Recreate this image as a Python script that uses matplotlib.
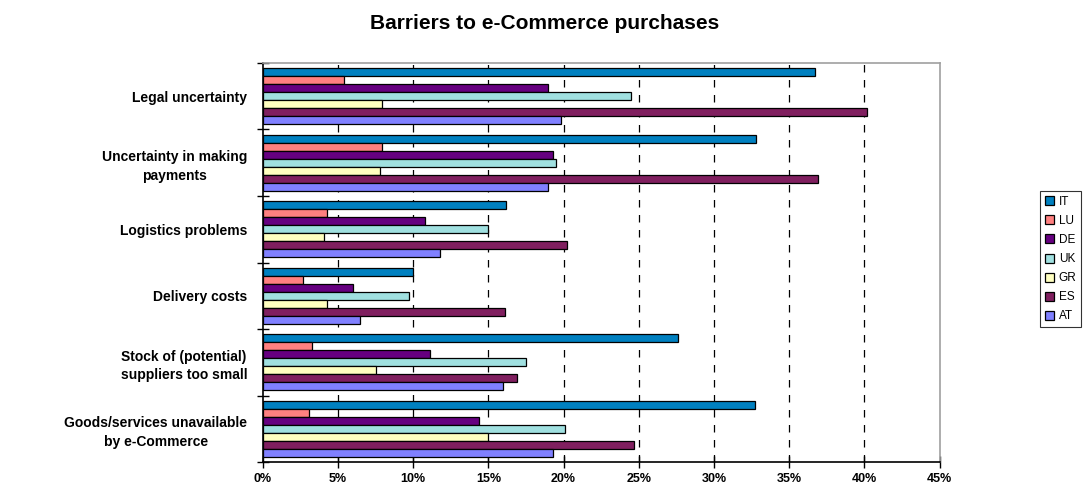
import matplotlib.pyplot as plt
import numpy as np
from matplotlib.ticker import FixedLocator, FuncFormatter

plt.rcParams['font.family'] = ['Liberation Sans', 'DejaVu Sans']

categories = ['Legal uncertainty',
              'Uncertainty in making\npayments',
              'Logistics problems',
              'Delivery costs',
              'Stock of (potential)\nsuppliers too small',
              'Goods/services unavailable\nby e-Commerce']
countries = ['IT', 'LU', 'DE', 'UK', 'GR', 'ES', 'AT']
colors = ['#0080C0', '#FF8080', '#660080', '#A0E0E0', '#FFFFC0', '#801F5F', '#8080FF']

# share of enterprises (%) per barrier, one list per country
it = [36.7, 32.8, 16.2, 10.0, 27.6, 32.7]
lu = [5.4, 7.9, 4.3, 2.7, 3.3, 3.1]
de = [19.0, 19.3, 10.8, 6.0, 11.1, 14.4]
uk = [24.5, 19.5, 15.0, 9.7, 17.5, 20.1]
gr = [7.9, 7.8, 4.1, 4.3, 7.5, 15.0]
es = [40.2, 36.9, 20.2, 16.1, 16.9, 24.7]
at = [19.8, 19.0, 11.8, 6.5, 16.0, 19.3]
series = [it, lu, de, uk, gr, es, at]

fig = plt.figure(figsize=(10.9, 4.88), dpi=100)
ax = fig.add_axes([0.241, 0.053, 0.621, 0.818])

n = len(countries)
group = 0.84
h = group / n
y = np.arange(len(categories))
for i, (name, vals, c) in enumerate(zip(countries, series, colors)):
    offs = -group / 2 + h * (i + 0.5)
    ax.barh(y + offs, vals, height=h, color=c, edgecolor='black',
            linewidth=0.9, label=name, zorder=3)

ax.set_xlim(0, 45)
ax.set_ylim(len(categories) - 0.5, -0.5)
ax.xaxis.set_major_locator(FixedLocator(np.arange(0, 46, 5)))
ax.xaxis.set_major_formatter(FuncFormatter(lambda v, p: f'{v:.0f}%'))
for v in range(5, 45, 5):
    ax.axvline(v, color='black', linestyle=(0, (6, 6)), linewidth=0.9, zorder=1)

ax.set_yticks(y)
ax.set_yticklabels(categories, fontsize=10, fontweight='bold', ha='right',
                   multialignment='center', linespacing=1.4)
ax.tick_params(axis='y', length=0, pad=11)
ax.set_yticks(np.arange(-0.5, len(categories)), minor=True)
ax.tick_params(axis='y', which='minor', length=8, direction='inout', width=1)
ax.tick_params(axis='x', length=8, direction='inout', width=1, labelsize=9, pad=4)
for lbl in ax.get_xticklabels():
    lbl.set_fontweight('bold')

for side in ['top', 'right']:
    ax.spines[side].set_color('#A0A0A0')
    ax.spines[side].set_linewidth(1.2)
for side in ['left', 'bottom']:
    ax.spines[side].set_color('black')
    ax.spines[side].set_linewidth(1.2)

fig.text(0.5, 0.951, 'Barriers to e-Commerce purchases', ha='center', va='center',
         fontsize=15, fontweight='bold')

leg = fig.legend(loc='center', bbox_to_anchor=(0.973, 0.469), fontsize=8.5,
                 handlelength=0.8, handleheight=0.8, handletextpad=0.4,
                 labelspacing=0.6, borderpad=0.4, borderaxespad=0.2,
                 frameon=True, fancybox=False)
leg.get_frame().set_edgecolor('black')
leg.get_frame().set_linewidth(0.8)

fig.savefig('out.png', dpi=100)
